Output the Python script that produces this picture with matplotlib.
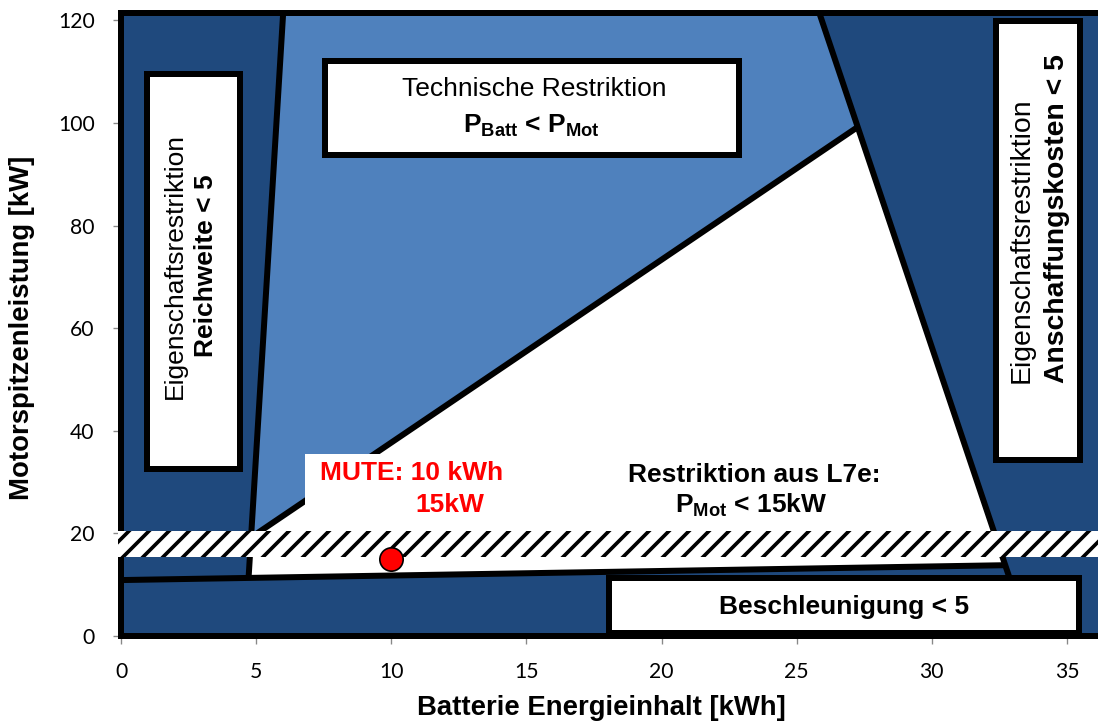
import matplotlib.pyplot as plt
from matplotlib.patches import Polygon, Rectangle

plt.rcParams['font.family'] = ['Liberation Sans', 'DejaVu Sans']
plt.rcParams['mathtext.fontset'] = 'custom'
plt.rcParams['mathtext.rm'] = 'Liberation Sans'
plt.rcParams['mathtext.bf'] = 'Liberation Sans:bold'
plt.rcParams['hatch.linewidth'] = 2.2

# axis ticks
x_ticks = [0, 5, 10, 15, 20, 25, 30, 35]
y_ticks = [0, 20, 40, 60, 80, 100, 120]

# restriction boundaries in (kWh, kW)
reach_line = [(4.72, 11.3), (6.0, 121.4)]
tech_line = [(4.81, 19.2), (27.26, 99.2)]
cost_line = [(25.84, 121.4), (33.6, 0.0)]
accel_line = [(0.0, 10.9), (32.73, 13.8)]

tech_region = [(4.81, 19.2), (6.0, 121.4), (25.84, 121.4), (27.26, 99.2)]
feasible_region = [(4.73, 11.3), (4.81, 19.2), (27.26, 99.2), (32.73, 13.8)]
plot_top = 121.4

# L7e limit band and the MUTE design point
l7e_band = (15.4, 20.5)
mute_point = (10, 15)

# label boxes: (x0, y0, x1, y1)
reach_box = (0.97, 32.5, 4.39, 109.6)
tech_box = (7.55, 93.7, 22.86, 112.0)
cost_box = (32.37, 34.3, 35.48, 119.8)
accel_box = (18.05, 0.6, 35.44, 11.3)
mute_box = (6.81, 20.6, 25.79, 35.5)

DARK = '#1F497D'
LIGHT = '#4F81BD'
LW = 3.6

fig = plt.figure(figsize=(1098 / 120, 724 / 120), dpi=120)
ax = fig.add_axes([121 / 1098, 88 / 724, 977 / 1098, 626 / 724])
ax.set_xlim(0, 36.15)
ax.set_ylim(0, 122)

# regions
ax.add_patch(Rectangle((0, 0), 40, plot_top, facecolor=DARK, edgecolor='none', zorder=1))
ax.add_patch(Polygon(tech_region, closed=True, facecolor=LIGHT, edgecolor='none', zorder=2))
ax.add_patch(Polygon(feasible_region, closed=True, facecolor='white', edgecolor='none', zorder=2))

for line in (reach_line, tech_line, cost_line, accel_line):
    xs, ys = zip(*line)
    ax.plot(xs, ys, color='black', lw=LW, solid_capstyle='butt', zorder=3)

# outer frame
ax.plot([0, 0], [0, plot_top], color='black', lw=LW, clip_on=False, zorder=3)
ax.plot([0, 40], [0, 0], color='black', lw=LW, clip_on=False, zorder=3)
ax.plot([0, 40], [plot_top, plot_top], color='black', lw=LW, clip_on=False, zorder=3)


def box(b, lw=LW, edge='black'):
    x0, y0, x1, y1 = b
    ax.add_patch(Rectangle((x0, y0), x1 - x0, y1 - y0, facecolor='white',
                           edgecolor=edge, lw=lw, zorder=4))


box(reach_box)
box(tech_box)
box(cost_box)
box(accel_box)
box(mute_box, lw=0, edge='none')

# hatched L7e band
ax.add_patch(Rectangle((-0.12, l7e_band[0]), 40, l7e_band[1] - l7e_band[0],
                       facecolor='white', edgecolor='black', hatch='//', lw=0,
                       clip_on=False, zorder=5))

ax.plot(*mute_point, 'o', ms=14, mfc='red', mec='black', mew=1.0, zorder=7)

fs = 15.8
ax.text(15.3, 105.2, 'Technische Restriktion', ha='center', va='baseline', fontsize=fs, zorder=6)
ax.text(15.2, 98.0, r'$\mathbf{P_{Batt}}$ < $\mathbf{P_{Mot}}$', ha='center', va='baseline',
        fontsize=fs, fontweight='bold', zorder=6)

ax.text(2.0, 72.1, 'Eigenschaftsrestriktion', rotation=90, ha='center', va='center',
        fontsize=fs, zorder=6)
ax.text(3.14, 72.1, 'Reichweite < 5', rotation=90, ha='center', va='center',
        fontsize=fs, fontweight='bold', zorder=6)

ax.text(33.33, 49.3, 'Eigenschaftsrestriktion', rotation=90, ha='center', va='bottom',
        fontsize=17, zorder=6)
ax.text(34.63, 49.3, 'Anschaffungskosten < 5', rotation=90, ha='center', va='bottom',
        fontsize=17, fontweight='bold', zorder=6)

ax.text(26.75, 4.3, 'Beschleunigung < 5', ha='center', va='baseline', fontsize=fs,
        fontweight='bold', zorder=6)

ax.text(7.36, 30.4, 'MUTE: 10 kWh', ha='left', va='baseline', fontsize=fs,
        fontweight='bold', color='red', zorder=6)
ax.text(10.88, 24.2, '15kW', ha='left', va='baseline', fontsize=fs,
        fontweight='bold', color='red', zorder=6)

ax.text(23.42, 30.0, 'Restriktion aus L7e:', ha='center', va='baseline', fontsize=fs,
        fontweight='bold', zorder=6)
ax.text(23.3, 24.0, r'$\mathbf{P_{Mot}}$ < 15kW', ha='center', va='baseline', fontsize=fs,
        fontweight='bold', zorder=6)

# axes styling
for s in ax.spines.values():
    s.set_visible(False)
ax.set_xticks(x_ticks)
ax.set_yticks(y_ticks)
ax.tick_params(length=4.8, width=0.8, color='#888888', pad=11, labelsize=12.7)
for lbl in ax.get_xticklabels() + ax.get_yticklabels():
    lbl.set_fontfamily('Lato')

ax.set_xlabel('Batterie Energieinhalt [kWh]', fontsize=16.5, fontweight='bold')
ax.xaxis.label.set_va('center')
ax.xaxis.set_label_coords(0.492, -0.115)
ax.set_ylabel('Motorspitzenleistung [kW]', fontsize=16.5, fontweight='bold')
ax.yaxis.label.set_va('center')
ax.yaxis.set_label_coords(-0.101, 0.492)

fig.savefig('out.png', dpi=120)
